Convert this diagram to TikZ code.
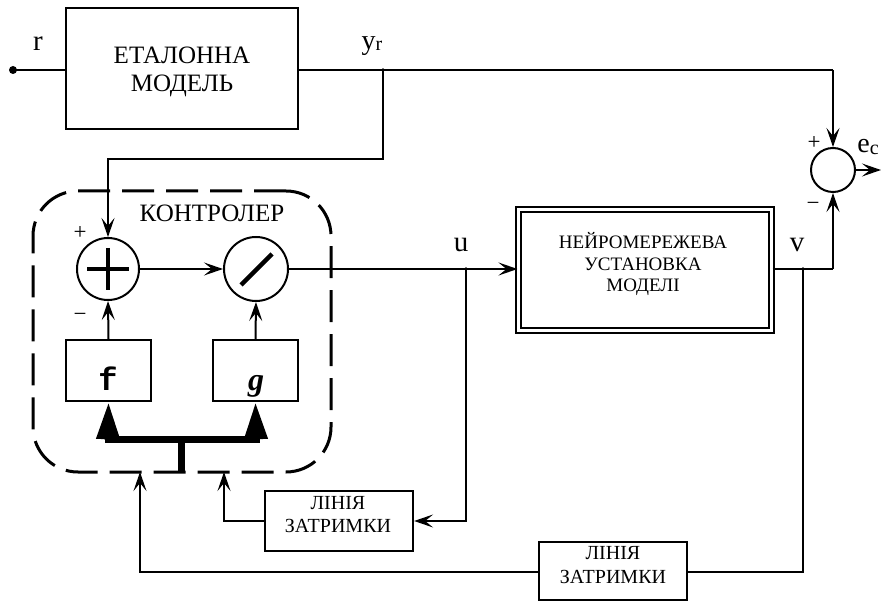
\documentclass[tikz,border=0pt]{standalone}
\usepackage{fontspec}
\setmainfont{Liberation Serif}
\newfontfamily\monof{Liberation Mono}
\usetikzlibrary{arrows.meta,calc}
\begin{document}
\begin{tikzpicture}[x=1pt,y=-1pt,
  line width=2pt,
  arr/.style={-{Stealth[length=19pt,width=13pt,inset=8pt]}},
  blk/.style={draw,line width=2.2pt,minimum width=#1,inner sep=0pt,align=center},
  sumc/.style={draw,circle,line width=2pt,inner sep=0pt},
  bus/.style={line width=7pt},
  tri/.style={-{Triangle[length=37pt,width=22pt]}},
  txt/.style={inner sep=0pt,align=center},
  lbl/.style={font=\fontsize{29}{29}\selectfont,inner sep=0pt},
  sgn/.style={font=\fontsize{23}{23}\selectfont,inner sep=0pt},
  dashbox/.style={draw,line width=3pt,dash pattern=on 32pt off 12pt,rounded corners=45pt}
]
\useasboundingbox (0,0) rectangle (881,601);

% reference model
\node[blk=232pt,minimum height=121pt] (etalon) at (182,68.5) {};
\node[txt,font=\fontsize{25}{28}\selectfont] (etalonlbl) at (182,72) {ЕТАЛОННА\\МОДЕЛЬ};
\fill (13,70) circle (4pt);
\coordinate (rin) at (13,70);
\draw (rin) -- (etalon.west |- rin);
\node[lbl] (rlbl) at (38,44) {r};

% yr junction
\coordinate (jyr) at (383,70);
\node[lbl,font=\fontsize{28}{28}\selectfont] (yrlbl) at (372,46) {y\raisebox{-1pt}{\fontsize{20}{20}\selectfont r}};

% comparator
\node[sumc,minimum size=44pt] (sum2) at (833,170) {};
\coordinate (eout) at (881,170);
\draw (etalon.east |- jyr) -- (jyr) -- (jyr -| sum2) ;
\draw[arr] (jyr -| sum2) -- (sum2.north);
\draw[arr] (sum2.east) -- (eout);
\node[lbl,font=\fontsize{28}{28}\selectfont] (eclbl) at (868,147) {e\raisebox{-2pt}{\fontsize{20}{20}\selectfont c}};
\node[sgn] (p2) at (814,143) {+};
\node[sgn] (m2) at (813,206) {−};

% controller
\node[dashbox,minimum width=298pt,minimum height=281pt] (ctrl) at (182,331.5) {};
\node[txt,font=\fontsize{25}{25}\selectfont] (ctrllbl) at (212,213) {КОНТРОЛЕР};
\node[sumc,minimum size=62pt] (sum1) at (108,269) {};
\draw[line width=4.5pt] ($(sum1)+(-21,0)$) -- ($(sum1)+(21,0)$);
\draw[line width=4.5pt] ($(sum1)+(0,-21)$) -- ($(sum1)+(0,21)$);
\node[sumc,minimum size=64pt] (div) at (256,269) {};
\draw[line width=4.5pt] ($(div)+(-15,16)$) -- ($(div)+(16,-15)$);
\node[sgn] (p1) at (80,233) {+};
\node[sgn] (m1) at (80,317) {−};
\draw[arr] (sum1.east) -- (div.west);

% yr to controller
\coordinate (c1) at (383,159);
\coordinate (c2) at (108,159);
\draw[arr] (jyr) -- (c1) -- (c2) -- (sum1.north);

% f and g
\node[blk=85pt,minimum height=61pt] (fbox) at (108.5,370.5) {};
\node[font=\monof\bfseries\fontsize{32}{32}\selectfont,inner sep=0pt,anchor=base] (flbl) at (108,391) {f};
\node[blk=85pt,minimum height=61pt] (gbox) at (255.5,370.5) {};
\node[font=\bfseries\itshape\fontsize{32}{32}\selectfont,inner sep=0pt,anchor=base] (glbl) at (256,391) {g};
\draw[arr] (fbox.north) -- (sum1.south);
\draw[arr] (gbox.north) -- (div.south);

% bus
\coordinate (bf) at (108,440);
\coordinate (bg) at (256,440);
\coordinate (bm) at (181,440);
\coordinate (bb) at (181,472);
\draw[bus] ($(bf)+(-3.5,0)$) -- ($(bg)+(3.5,0)$);
\draw[bus] (bm) -- (bb);
\draw[bus,tri] (bf) -- (fbox.south);
\draw[bus,tri] (bg) -- (gbox.south);

% plant
\node[draw,double,double distance=3pt,line width=2pt,minimum width=253pt,minimum height=121pt] (nn) at (645,270) {};
\node[txt,font=\fontsize{19}{21.5}\selectfont] (nnlbl) at (643,264) {НЕЙРОМЕРЕЖЕВА\\УСТАНОВКА\\МОДЕЛІ};
\coordinate (ju) at (466,269);
\draw[arr] (div.east) -- (ju) -- (nn.west |- ju);
\node[lbl] (ulbl) at (461,245) {u};
\coordinate (jv) at (803,269);
\coordinate (vturn) at (833,269);
\draw (nn.east |- jv) -- (jv) -- (vturn);
\draw[arr] (vturn) -- (sum2.south);
\node[lbl] (vlbl) at (797,245) {v};
\fill (ju) circle (1.8pt);
\fill (jv) circle (1.8pt);
\fill (jyr) circle (1.8pt);

% delay lines
\node[blk=148pt,minimum height=60pt] (dl1) at (339,521) {};
\node[txt,font=\fontsize{20}{23}\selectfont] (dl1lbl) at (338,515) {ЛІНІЯ\\ЗАТРИМКИ};
\node[blk=148pt,minimum height=58pt] (dl2) at (613,571) {};
\node[txt,font=\fontsize{20}{24}\selectfont] (dl2lbl) at (613,565) {ЛІНІЯ\\ЗАТРИМКИ};
\coordinate (u1) at (466,521);
\draw[arr] (ju) -- (u1) -- (dl1.east);
\coordinate (d1a) at (224,521);
\coordinate (d1b) at (224,472);
\draw[arr] (dl1.west) -- (d1a) -- (d1b);
\coordinate (v1) at (803,572);
\draw (jv) -- (v1) -- (dl2.east |- v1);
\coordinate (d2a) at (140,572);
\coordinate (d2b) at (140,472);
\draw[arr] (dl2.west |- v1) -- (d2a) -- (d2b);
\end{tikzpicture}
\end{document}
